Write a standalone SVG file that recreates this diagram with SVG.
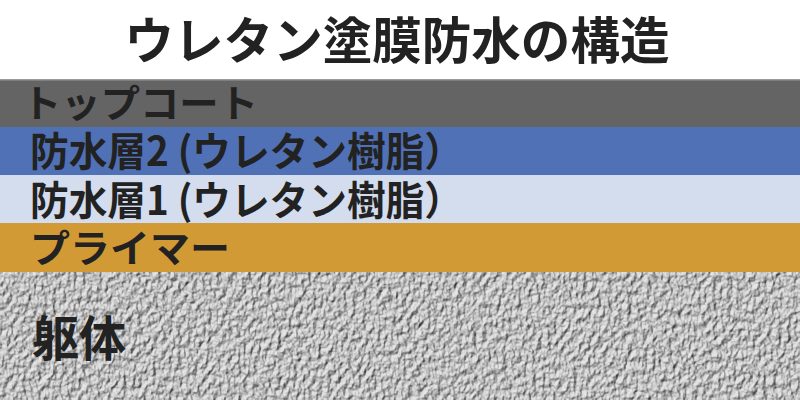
<svg xmlns="http://www.w3.org/2000/svg" width="800" height="400" viewBox="0 0 800 400">
<style>
.t{font-family:"Noto Sans CJK JP","Noto Sans CJK SC",sans-serif;font-weight:bold;fill:#222}
</style>
<defs>
<filter id="concrete" x="0" y="0" width="100%" height="100%" color-interpolation-filters="sRGB">
<feTurbulence type="fractalNoise" baseFrequency="0.2 0.15" numOctaves="3" seed="7" result="n"/>
<feDiffuseLighting in="n" surfaceScale="2.5" diffuseConstant="1" lighting-color="#e6e6e6" result="l">
<feDistantLight azimuth="225" elevation="58"/>
</feDiffuseLighting>
<feComposite in="l" in2="SourceGraphic" operator="in"/>
</filter>
</defs>
<rect width="800" height="400" fill="#ffffff"/>
<g id="title">
<text class="t" x="397" y="59" font-size="50" text-anchor="middle" textLength="545" lengthAdjust="spacingAndGlyphs">ウレタン塗膜防水の構造</text>
</g>
<g id="topcoat">
<rect x="0" y="79" width="800" height="48" fill="#646464"/>
<rect x="0" y="79" width="800" height="1.5" fill="#9a9a9a"/>
<text class="t" x="22" y="117" font-size="38" textLength="236" lengthAdjust="spacingAndGlyphs">トップコート</text>
</g>
<g id="layer2">
<rect x="0" y="127" width="800" height="48" fill="#5071b5"/>
<text class="t" x="30" y="166" font-size="40" textLength="433" lengthAdjust="spacingAndGlyphs">防水層2 (ウレタン樹脂）</text>
</g>
<g id="layer1">
<rect x="0" y="175" width="800" height="48" fill="#d3ddee"/>
<text class="t" x="30" y="215" font-size="40" textLength="433" lengthAdjust="spacingAndGlyphs">防水層1 (ウレタン樹脂）</text>
</g>
<g id="primer">
<rect x="0" y="223" width="800" height="49" fill="#d29a34"/>
<text class="t" x="30" y="262" font-size="38" textLength="200" lengthAdjust="spacingAndGlyphs">プライマー</text>
</g>
<g id="substrate">
<rect x="0" y="272" width="800" height="128" fill="#c8c8c8" filter="url(#concrete)"/>
<text class="t" x="32" y="356" font-size="48" textLength="94" lengthAdjust="spacingAndGlyphs">躯体</text>
</g>
<g id="connectors"/>
</svg>
